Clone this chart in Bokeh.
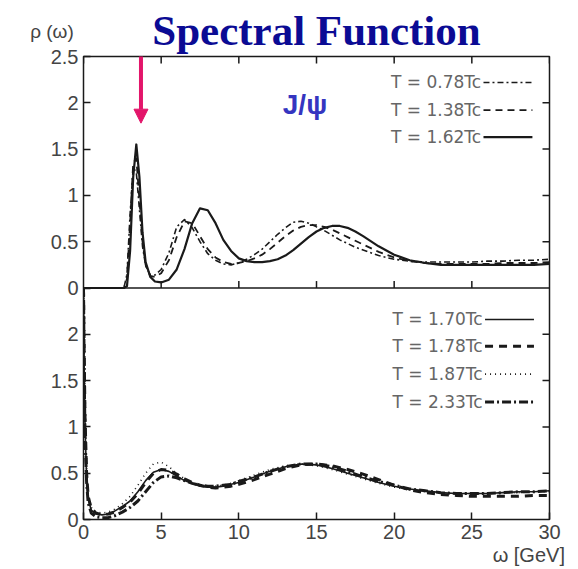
from bokeh.plotting import figure
from bokeh.models import (Range1d, LinearAxis, FixedTicker, Label, Arrow, NormalHead, Span, Title)
from bokeh.embed import file_html
from bokeh.resources import INLINE

# ---------------- data ----------------
omega_top = [0, 2.6, 2.8, 3.0, 3.2, 3.4, 3.6, 3.8, 4.0, 4.3, 4.6, 5.0, 5.5, 6.0, 6.5, 7.0, 7.5,
             8.0, 8.5, 9.0, 9.5, 10, 10.5, 11, 11.5, 12, 12.5, 13, 13.5, 14, 14.5, 15, 15.5,
             16, 16.5, 17, 17.5, 18, 19, 20, 21, 22, 23, 24, 25, 26, 27, 28, 29, 30]
rho_078 = [0, 0, 0.15, 0.8, 1.3, 1.25, 0.85, 0.45, 0.24, 0.14, 0.14, 0.2, 0.38, 0.66, 0.74, 0.65, 0.5,
           0.37, 0.3, 0.26, 0.25, 0.27, 0.31, 0.36, 0.42, 0.5, 0.58, 0.65, 0.71, 0.72, 0.7, 0.66, 0.62,
           0.57, 0.52, 0.48, 0.44, 0.41, 0.35, 0.31, 0.29, 0.28, 0.28, 0.28, 0.28, 0.29, 0.29, 0.3, 0.3, 0.31]
rho_138 = [0, 0, 0.1, 0.7, 1.35, 1.4, 0.95, 0.5, 0.25, 0.13, 0.12, 0.16, 0.3, 0.55, 0.72, 0.7, 0.56,
           0.42, 0.33, 0.28, 0.26, 0.27, 0.29, 0.32, 0.36, 0.42, 0.49, 0.56, 0.62, 0.66, 0.68, 0.68, 0.66,
           0.63, 0.59, 0.55, 0.51, 0.47, 0.39, 0.33, 0.29, 0.27, 0.26, 0.26, 0.26, 0.26, 0.27, 0.27, 0.27, 0.28]
rho_162 = [0, 0, 0.02, 0.4, 1.2, 1.55, 1.2, 0.6, 0.28, 0.12, 0.07, 0.06, 0.09, 0.2, 0.42, 0.7, 0.86,
           0.84, 0.7, 0.52, 0.4, 0.32, 0.29, 0.28, 0.28, 0.29, 0.31, 0.35, 0.41, 0.48, 0.55, 0.61, 0.65,
           0.67, 0.67, 0.65, 0.61, 0.56, 0.45, 0.36, 0.3, 0.27, 0.25, 0.25, 0.25, 0.25, 0.25, 0.25, 0.25, 0.26]

omega_bot = [0, 0.05, 0.1, 0.2, 0.3, 0.5, 0.8, 1.2, 1.6, 2.0, 2.5, 3.0, 3.5, 4.0, 4.5, 5.0, 5.5, 6.0,
             6.5, 7.0, 7.5, 8.0, 8.5, 9, 9.5, 10, 11, 12, 13, 14, 15, 16, 17, 18, 19, 20, 21, 22, 23,
             24, 25, 26, 27, 28, 29, 30]
rho_170 = [2.5, 1.6, 1.0, 0.45, 0.22, 0.1, 0.06, 0.05, 0.06, 0.09, 0.14, 0.2, 0.3, 0.42, 0.51, 0.54, 0.52, 0.47,
           0.42, 0.39, 0.36, 0.35, 0.35, 0.36, 0.38, 0.4, 0.46, 0.52, 0.57, 0.6, 0.59, 0.55, 0.5, 0.45, 0.4, 0.36, 0.33, 0.31, 0.29,
           0.28, 0.28, 0.28, 0.29, 0.3, 0.3, 0.31]
rho_178 = [2.5, 1.7, 1.1, 0.5, 0.25, 0.12, 0.07, 0.05, 0.06, 0.08, 0.13, 0.19, 0.28, 0.4, 0.5, 0.54, 0.53, 0.49,
           0.44, 0.4, 0.37, 0.35, 0.34, 0.35, 0.36, 0.38, 0.43, 0.49, 0.55, 0.59, 0.6, 0.58, 0.54, 0.49, 0.43, 0.37, 0.32, 0.29, 0.27,
           0.26, 0.25, 0.25, 0.25, 0.25, 0.26, 0.26]
rho_187 = [2.5, 1.8, 1.2, 0.55, 0.28, 0.13, 0.08, 0.07, 0.08, 0.11, 0.17, 0.25, 0.37, 0.5, 0.6, 0.62, 0.57, 0.5,
           0.44, 0.4, 0.37, 0.36, 0.36, 0.37, 0.39, 0.42, 0.48, 0.54, 0.58, 0.6, 0.58, 0.54, 0.49, 0.44, 0.39, 0.35, 0.32, 0.3, 0.29,
           0.28, 0.28, 0.28, 0.29, 0.29, 0.3, 0.3]
rho_233 = [2.5, 1.5, 0.9, 0.4, 0.18, 0.07, 0.03, 0.02, 0.02, 0.04, 0.08, 0.13, 0.2, 0.3, 0.4, 0.46, 0.47, 0.45,
           0.42, 0.39, 0.37, 0.36, 0.36, 0.37, 0.38, 0.41, 0.46, 0.52, 0.57, 0.6, 0.6, 0.57, 0.52, 0.46, 0.41, 0.37, 0.33, 0.31, 0.29,
           0.28, 0.28, 0.28, 0.29, 0.3, 0.3, 0.31]

x_ticks = [0, 5, 10, 15, 20, 25, 30]
# left axis: lower panel ticks 0..2, upper panel ticks 0..2.5 (stacked, upper panel offset by 2.5)
y_tick_pos = [0, 0.5, 1, 1.5, 2, 2.5, 3, 3.5, 4, 4.5, 5]
y_tick_lab = ["0", "0.5", "1", "1.5", "2", "0", "0.5", "1", "1.5", "2", "2.5"]
y_ticks_panel = [0.5, 1, 1.5, 2]
legend_top = ["T = 0.78Tc", "T = 1.38Tc", "T = 1.62Tc"]
legend_bot = ["T = 1.70Tc", "T = 1.78Tc", "T = 1.87Tc", "T = 2.33Tc"]

# ---------------- styles ----------------
INK = "#1a1a1a"
TICK_FONT = "Liberation Sans"
LEG_FONT = "DejaVu Sans"
TEXT_GRAY = "#444444"
LEG_GRAY = "#666666"
TICK_LEN_X = 0.45    # data units (about 7 px)
TICK_LEN_Y = 0.075

top_styles = [dict(line_width=1.6, line_dash="6 3 2 3"),
              dict(line_width=1.8, line_dash="7 5"),
              dict(line_width=2.2, line_dash="solid")]
bot_styles = [dict(line_width=1.6, line_dash="solid"),
              dict(line_width=3.0, line_dash="8 6"),
              dict(line_width=1.6, line_dash="1 4"),
              dict(line_width=3.0, line_dash="9 3 2 3")]

p = figure(width=578, height=569, x_range=Range1d(0, 30), y_range=Range1d(0, 5),
           output_backend="svg", toolbar_location=None,
           x_axis_location=None, y_axis_location=None,
           min_border_left=83, min_border_right=29, min_border_top=56, min_border_bottom=50)
p.extra_y_ranges = {"top": Range1d(-2.5, 2.5)}
p.background_fill_color = "white"
p.border_fill_color = "white"
p.outline_line_color = INK
p.outline_line_width = 1.5
p.xgrid.visible = False
p.ygrid.visible = False


def style_axis(ax):
    ax.axis_line_color = None
    ax.major_tick_in = 7
    ax.major_tick_out = 0
    ax.major_tick_line_color = INK
    ax.major_tick_line_width = 1.5
    ax.minor_tick_line_color = None
    ax.major_label_text_font = TICK_FONT
    ax.major_label_text_font_size = "20px"
    ax.major_label_text_color = TEXT_GRAY
    ax.major_label_standoff = 5


left = LinearAxis(ticker=FixedTicker(ticks=y_tick_pos))
style_axis(left)
left.major_label_overrides = {float(k): v for k, v in zip(y_tick_pos, y_tick_lab)}
p.add_layout(left, "left")

below = LinearAxis(ticker=FixedTicker(ticks=x_ticks))
style_axis(below)
p.add_layout(below, "below")

# x-axis label, right-aligned below the tick labels
p.add_layout(Title(text="ω  [GeV]", align="right", offset=-21, standoff=0,
                   text_font=TICK_FONT, text_font_size="20px", text_font_style="normal",
                   text_color=TEXT_GRAY), "below")

# panel separator
p.add_layout(Span(location=2.5, dimension="width", line_color=INK, line_width=1.5))

# inward ticks on the sides without labels (from the tick lists)
n_x = len(x_ticks)
p.segment(x0=x_ticks, y0=[5] * n_x, x1=x_ticks, y1=[5 - TICK_LEN_Y] * n_x, line_color=INK, line_width=1.5)
p.segment(x0=x_ticks[1:-1], y0=[2.5] * (n_x - 2), x1=x_ticks[1:-1], y1=[2.5 + TICK_LEN_Y] * (n_x - 2),
          line_color=INK, line_width=1.5)
n_y = len(y_ticks_panel)
p.segment(x0=[30 - TICK_LEN_X] * n_y, y0=y_ticks_panel, x1=[30] * n_y, y1=y_ticks_panel,
          line_color=INK, line_width=1.5)
p.segment(x0=[30 - TICK_LEN_X] * n_y, y0=y_ticks_panel, x1=[30] * n_y, y1=y_ticks_panel,
          line_color=INK, line_width=1.5, y_range_name="top")

# curves
for ys, st in zip([rho_078, rho_138, rho_162], top_styles):
    p.line(omega_top, ys, line_color=INK, line_join="round", y_range_name="top", **st)
for ys, st in zip([rho_170, rho_178, rho_187, rho_233], bot_styles):
    p.line(omega_bot, ys, line_color=INK, line_join="round", **st)

# ---------------- legends (text, then line sample on the right) ----------------
LEG_TXT_X = 25.6
LEG_LINE = (25.75, 28.9)
top_rows = [2.22, 1.92, 1.63]
for lab, st, yy in zip(legend_top, top_styles, top_rows):
    p.add_layout(Label(x=LEG_TXT_X, y=yy, y_range_name="top", text=lab, text_align="right",
                       text_baseline="middle", text_font=LEG_FONT, text_font_size="17px",
                       text_color=LEG_GRAY))
    p.line([LEG_LINE[0], LEG_LINE[1]], [yy, yy], line_color=INK, y_range_name="top", **st)

bot_rows = [2.16, 1.87, 1.57, 1.27]
for lab, st, yy in zip(legend_bot, bot_styles, bot_rows):
    p.add_layout(Label(x=LEG_TXT_X + 0.1, y=yy, text=lab, text_align="right", text_baseline="middle",
                       text_font=LEG_FONT, text_font_size="17px", text_color=LEG_GRAY))
    p.line([LEG_LINE[0] + 0.1, LEG_LINE[1] + 0.1], [yy, yy], line_color=INK, **st)

# ---------------- annotations ----------------
p.title = Title(text="Spectral Function", align="center", offset=3, standoff=6,
                text_font="Liberation Serif", text_font_style="bold", text_font_size="43px",
                text_color="#0b0b94")
# y-axis label above the upper-left corner (placed in the left side panel so it is not clipped)
p.add_layout(Label(x=-2.03, y=2.77, y_range_name="top", text="ρ (ω)", text_align="center",
                   text_baseline="middle", text_font=TICK_FONT, text_font_size="19px",
                   text_color=TEXT_GRAY), "left")
p.add_layout(Label(x=14.26, y=1.98, y_range_name="top", text="J/ψ", text_align="center",
                   text_baseline="middle", text_font="Liberation Sans", text_font_style="bold",
                   text_font_size="28px", text_color="#3535c0"))
ARROW_C = "#e3156a"
p.add_layout(Arrow(x_start=3.7, y_start=2.90, x_end=3.7, y_end=1.78, y_range_name="top",
                   line_color=ARROW_C, line_width=4,
                   end=NormalHead(size=14, fill_color=ARROW_C, line_color=ARROW_C)))

open("out.html", "w").write(file_html(p, INLINE))
